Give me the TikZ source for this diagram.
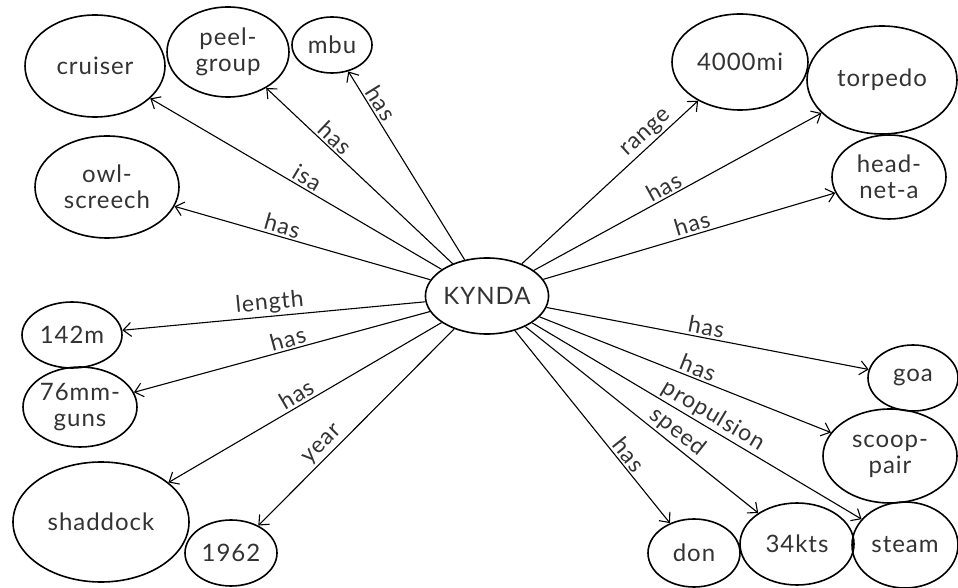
\documentclass[tikz,border=0pt]{standalone}
\usepackage{fontspec}
\setmainfont{Lato}[LetterSpace=4]
\usetikzlibrary{shapes.geometric,arrows.meta}
\begin{document}
\begin{tikzpicture}[x=1pt,y=1pt,
  ent/.style={ellipse, draw, line width=1.6pt, inner sep=0pt, align=center, text=black!80, font=\fontsize{24}{26}\selectfont},
  arr/.style={line width=1.1pt, -{Straight Barb[length=8pt,width=14pt,line width=1.1pt]}},
  lbl/.style={sloped, above, inner sep=2pt, text=black!80, font=\fontsize{23}{25}\selectfont}]
\useasboundingbox (0,0) rectangle (958,587);
\node[ent, minimum width=118pt, minimum height=76pt] (K) at (487,291) {KYNDA};
\node[ent, minimum width=140pt, minimum height=102pt] (cruiser) at (95,521) {cruiser};
\node[ent, minimum width=122pt, minimum height=90pt] (peel) at (228,535) {peel-\\group};
\node[ent, minimum width=80pt, minimum height=56pt] (mbu) at (332,542) {mbu};
\node[ent, minimum width=144pt, minimum height=102pt] (owl) at (107,400) {owl-\\screech};
\node[ent, minimum width=136pt, minimum height=96pt] (mi) at (740,525) {4000mi};
\node[ent, minimum width=150pt, minimum height=108pt] (torpedo) at (882,507) {torpedo};
\node[ent, minimum width=114pt, minimum height=84pt] (head) at (889,410) {head-\\net-a};
\node[ent, minimum width=100pt, minimum height=66pt] (m142) at (72,252) {142m};
\node[ent, minimum width=114pt, minimum height=80pt] (guns) at (80,180) {76mm-\\guns};
\node[ent, minimum width=176pt, minimum height=120pt] (shaddock) at (101,65) {shaddock};
\node[ent, minimum width=92pt, minimum height=66pt] (y1962) at (231,34) {1962};
\node[ent, minimum width=90pt, minimum height=66pt] (goa) at (913,209) {goa};
\node[ent, minimum width=134pt, minimum height=94pt] (scoop) at (890,131) {scoop-\\pair};
\node[ent, minimum width=106pt, minimum height=86pt] (steam) at (905,42) {steam};
\node[ent, minimum width=114pt, minimum height=82pt] (kts) at (797,43) {34kts};
\node[ent, minimum width=92pt, minimum height=68pt] (don) at (694,34) {don};

\draw[arr] (K) -- node[lbl, pos=0.80] {has} (mbu);
\draw[arr] (K) -- node[lbl, pos=0.67] {has} (peel);
\draw[arr] (K) -- node[lbl, pos=0.48] {isa} (cruiser);
\draw[arr] (K) -- node[lbl, pos=0.59] {has} (owl);
\draw[arr] (K) -- node[lbl, pos=0.51] {length} (m142);
\draw[arr] (K) -- node[lbl, pos=0.47] {has} (guns);
\draw[arr] (K) -- node[lbl, pos=0.51] {has} (shaddock);
\draw[arr] (K) -- node[lbl, pos=0.63] {year} (y1962);
\draw[arr] (K) -- node[lbl, pos=0.75] {range} (mi);
\draw[arr] (K) -- node[lbl, pos=0.47] {has} (torpedo);
\draw[arr] (K) -- node[lbl, pos=0.52] {has} (head);
\draw[arr] (K) -- node[lbl, pos=0.49] {has} (goa);
\draw[arr] (K) -- node[lbl, pos=0.53] {has} (scoop);
\draw[arr] (K) -- node[lbl, pos=0.53] {propulsion} (steam);
\draw[arr] (K) -- node[lbl, pos=0.62] {speed} (kts);
\draw[arr] (K) -- node[lbl, pos=0.68] {has} (don);
\end{tikzpicture}
\end{document}
